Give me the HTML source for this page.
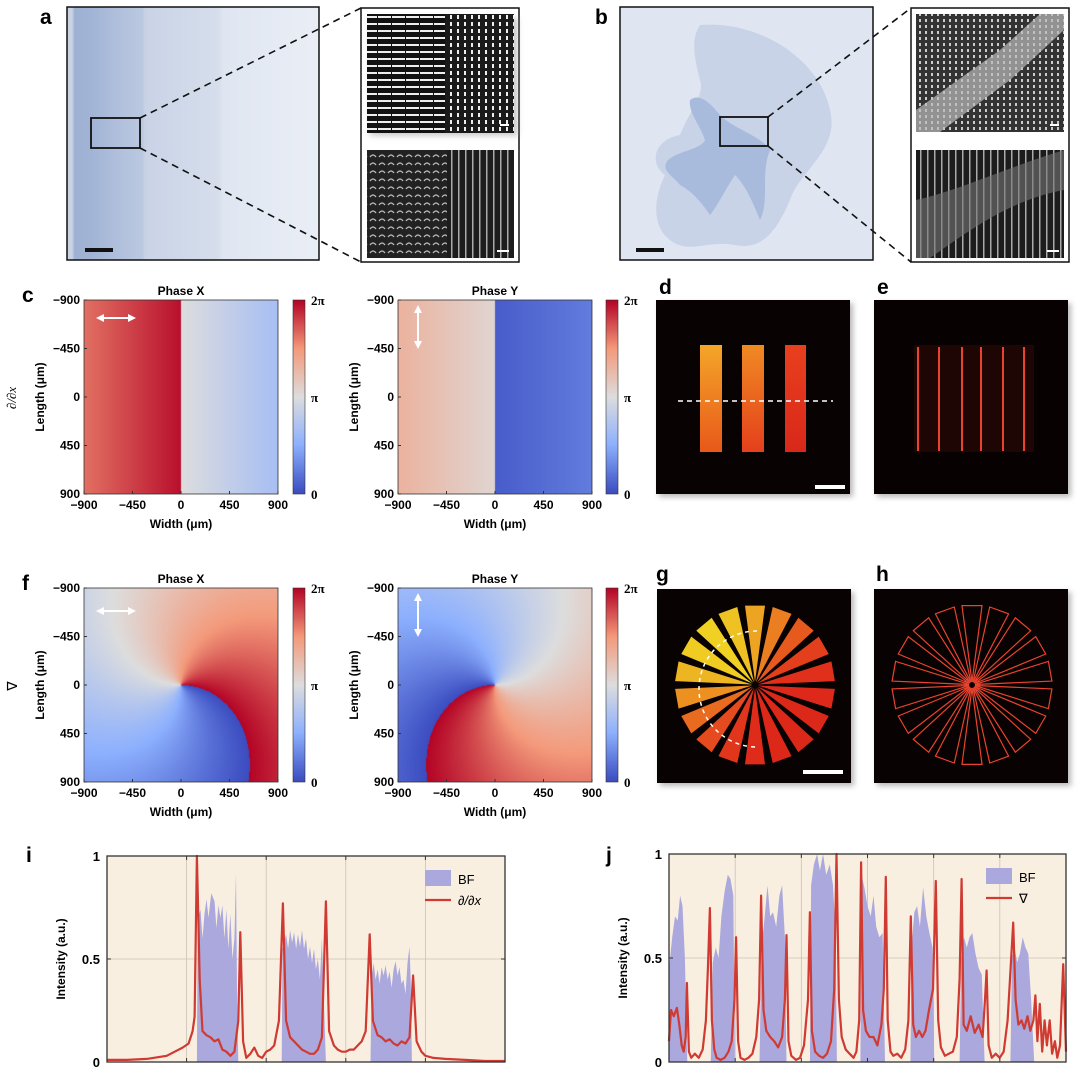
<!DOCTYPE html>
<html><head><meta charset="utf-8">
<style>
html,body{margin:0;padding:0;background:#fff;}
#wrap{position:relative;width:1080px;height:1068px;overflow:hidden;font-family:"Liberation Sans",sans-serif;}
canvas{position:absolute;}
svg{position:absolute;left:0;top:0;}
</style></head>
<body>
<div id="wrap">
<canvas id="hmC1" width="194" height="194" style="left:84px;top:300px;width:194px;height:194px"></canvas>
<canvas id="hmC2" width="194" height="194" style="left:398px;top:300px;width:194px;height:194px"></canvas>
<canvas id="hmF1" width="194" height="194" style="left:84px;top:588px;width:194px;height:194px"></canvas>
<canvas id="hmF2" width="194" height="194" style="left:398px;top:588px;width:194px;height:194px"></canvas>
<canvas id="cb1" width="12" height="194" style="left:293px;top:300px;width:12px;height:194px"></canvas>
<canvas id="cb2" width="12" height="194" style="left:606px;top:300px;width:12px;height:194px"></canvas>
<canvas id="cb3" width="12" height="194" style="left:293px;top:588px;width:12px;height:194px"></canvas>
<canvas id="cb4" width="12" height="194" style="left:606px;top:588px;width:12px;height:194px"></canvas>

<svg id="svg" width="1080" height="1068" viewBox="0 0 1080 1068" xmlns="http://www.w3.org/2000/svg">
<defs>
  <linearGradient id="gA" x1="0" x2="1" y1="0" y2="0">
    <stop offset="0" stop-color="#c9d3e4"/><stop offset="0.02" stop-color="#c9d3e4"/>
    <stop offset="0.03" stop-color="#9fb1d2"/><stop offset="0.1" stop-color="#a2b4d5"/>
    <stop offset="0.2" stop-color="#b0bfdc"/><stop offset="0.3" stop-color="#bac8e0"/>
    <stop offset="0.31" stop-color="#c9d3e6"/><stop offset="0.6" stop-color="#d6deec"/>
    <stop offset="0.62" stop-color="#e0e6f1"/><stop offset="1" stop-color="#e9eef6"/>
  </linearGradient>
  <pattern id="pTopL" width="14" height="7" patternUnits="userSpaceOnUse"><rect width="14" height="7" fill="#111"/><rect x="0" y="2" width="13" height="2" fill="#eee"/></pattern>
  <pattern id="pTopR" width="7" height="7" patternUnits="userSpaceOnUse"><rect width="7" height="7" fill="#1a1a1a"/><rect x="2" y="1" width="2" height="4" fill="#eee"/></pattern>
  <pattern id="pBotL" width="9" height="8" patternUnits="userSpaceOnUse"><rect width="9" height="8" fill="#222"/><path d="M1 5 Q4 1 7 5" stroke="#bbb" stroke-width="1.3" fill="none"/></pattern>
  <pattern id="pBotR" width="7" height="6" patternUnits="userSpaceOnUse"><rect width="7" height="6" fill="#1c1c1c"/><rect x="3" y="0" width="1.5" height="6" fill="#aaa"/></pattern>
  <pattern id="pGrey" width="6" height="6" patternUnits="userSpaceOnUse"><rect width="6" height="6" fill="#333"/><rect x="1" y="1" width="2" height="3" fill="#ccc"/></pattern>
  <linearGradient id="gBar1" x1="0" x2="0" y1="0" y2="1"><stop offset="0" stop-color="#f4a628"/><stop offset="1" stop-color="#e8581a"/></linearGradient>
  <linearGradient id="gBar2" x1="0" x2="0" y1="0" y2="1"><stop offset="0" stop-color="#f08a22"/><stop offset="1" stop-color="#e4401c"/></linearGradient>
  <linearGradient id="gBar3" x1="0" x2="0" y1="0" y2="1"><stop offset="0" stop-color="#e8401e"/><stop offset="1" stop-color="#d8281a"/></linearGradient>
  <filter id="sh" x="-10%" y="-10%" width="130%" height="130%"><feGaussianBlur stdDeviation="3"/></filter>
  <marker id="ah" viewBox="0 0 10 10" refX="5" refY="5" markerWidth="4" markerHeight="4" orient="auto-start-reverse"><path d="M0 0 L10 5 L0 10 z" fill="#fff"/></marker>
</defs>

<!-- Panel a -->
<text x="40" y="24" font-size="21" font-weight="bold">a</text>
<g>
  <rect x="67" y="7" width="252" height="253" fill="url(#gA)" stroke="#111" stroke-width="1.5"/>
  <rect x="91" y="118" width="49" height="30" fill="none" stroke="#111" stroke-width="1.8"/>
  <rect x="85" y="248" width="28" height="4" fill="#111"/>
</g>
<line x1="140" y1="118" x2="361" y2="8" stroke="#111" stroke-width="1.6" stroke-dasharray="7,5"/>
<line x1="140" y1="148" x2="361" y2="262" stroke="#111" stroke-width="1.6" stroke-dasharray="7,5"/>
<g>
  <rect x="361" y="8" width="158" height="254" fill="#fff" stroke="#111" stroke-width="1.5"/>
  <rect x="370" y="18" width="148" height="118" fill="#999" filter="url(#sh)" opacity="0.5"/>
  <rect x="367" y="14" width="78" height="119" fill="url(#pTopL)"/>
  <rect x="445" y="14" width="69" height="119" fill="url(#pTopR)"/>
  <rect x="367" y="150" width="80" height="108" fill="url(#pBotL)"/>
  <rect x="447" y="150" width="67" height="108" fill="url(#pBotR)"/>
  <rect x="500" y="124" width="9" height="2" fill="#fff"/><rect x="497" y="250" width="12" height="2" fill="#fff"/>
</g>

<!-- Panel b -->
<text x="595" y="24" font-size="21" font-weight="bold">b</text>
<g>
  <rect x="620" y="7" width="253" height="253" fill="#dfe6f1" stroke="#111" stroke-width="1.5"/>
  <path d="M700 25 C760 20 820 60 830 110 C840 150 800 170 790 200 C775 235 760 250 735 245 C705 240 690 255 670 240 C650 225 655 195 665 175 C650 165 652 140 680 135 C690 110 705 95 700 80 C695 60 690 40 700 25 Z" fill="#c8d3e8"/>
  <path d="M690 100 C700 92 712 105 720 115 C735 130 760 135 770 150 C760 175 770 200 760 220 C752 200 745 185 735 175 C725 190 718 205 710 215 C700 200 690 190 680 185 C672 175 660 170 668 160 C680 150 700 150 705 140 C700 125 688 112 690 100 Z" fill="#a9bbdc"/>
  <rect x="720" y="117" width="48" height="29" fill="none" stroke="#111" stroke-width="1.8"/>
  <rect x="636" y="248" width="28" height="4" fill="#111"/>
</g>
<line x1="768" y1="117" x2="911" y2="8" stroke="#111" stroke-width="1.6" stroke-dasharray="7,5"/>
<line x1="768" y1="146" x2="911" y2="262" stroke="#111" stroke-width="1.6" stroke-dasharray="7,5"/>
<g>
  <rect x="911" y="8" width="158" height="254" fill="#fff" stroke="#111" stroke-width="1.5"/>
  <rect x="916" y="14" width="148" height="118" fill="url(#pGrey)"/>
  <path d="M916 110 L1000 50 L1040 14 L1064 14 L1064 30 L1010 80 L940 132 L916 132 Z" fill="#bbb" opacity="0.7"/>
  <rect x="916" y="150" width="148" height="108" fill="url(#pBotR)"/>
  <path d="M916 200 C960 190 1000 170 1064 150 L1064 190 C1010 200 970 230 930 258 L916 258 Z" fill="#777" opacity="0.6"/>
  <rect x="1050" y="124" width="9" height="2" fill="#fff"/><rect x="1047" y="250" width="12" height="2" fill="#fff"/>
</g>

<!-- Row c labels -->
<text x="22" y="302" font-size="21" font-weight="bold">c</text>
<text x="22" y="590" font-size="21" font-weight="bold">f</text>
<text transform="translate(16,398) rotate(-90)" text-anchor="middle" font-size="13" font-style="italic" font-family="Liberation Serif,serif">∂/∂x</text>
<text transform="translate(17,686) rotate(-90)" text-anchor="middle" font-size="14">∇</text>

<g id="heatAxes"></g>

<!-- d -->
<text x="659" y="294" font-size="21" font-weight="bold">d</text>
<rect x="659" y="303" width="194" height="194" fill="#888" filter="url(#sh)" opacity="0.6"/>
<g>
  <rect x="656" y="300" width="194" height="194" fill="#080202"/>
  <rect x="700" y="345" width="22" height="107" fill="url(#gBar1)"/>
  <rect x="742" y="345" width="22" height="107" fill="url(#gBar2)"/>
  <rect x="785" y="345" width="21" height="107" fill="url(#gBar3)"/>
  <line x1="678" y1="401" x2="833" y2="401" stroke="#fff" stroke-width="1.5" stroke-dasharray="5,4"/>
  <rect x="815" y="485" width="30" height="4" fill="#fff"/>
</g>
<!-- e -->
<text x="877" y="294" font-size="21" font-weight="bold">e</text>
<rect x="877" y="303" width="194" height="194" fill="#888" filter="url(#sh)" opacity="0.6"/>
<g id="panelE">
  <rect x="874" y="300" width="194" height="194" fill="#070101"/>
  <rect x="914" y="345" width="120" height="107" fill="#1e0604"/>
</g>
<!-- g -->
<text x="656" y="581" font-size="21" font-weight="bold">g</text>
<rect x="660" y="592" width="194" height="194" fill="#888" filter="url(#sh)" opacity="0.6"/>
<g id="panelG">
  <rect x="657" y="589" width="194" height="194" fill="#080202"/>
</g>
<!-- h -->
<text x="876" y="581" font-size="21" font-weight="bold">h</text>
<rect x="877" y="592" width="194" height="194" fill="#888" filter="url(#sh)" opacity="0.6"/>
<g id="panelH">
  <rect x="874" y="589" width="194" height="194" fill="#080202"/>
</g>

<!-- i / j -->
<text x="26" y="862" font-size="21" font-weight="bold">i</text>
<text x="606" y="862" font-size="21" font-weight="bold">j</text>
<g id="chartI"></g>
<g id="chartJ"></g>
</svg>
</div>

<script>
// ---------- Chart data (panel i) ----------
const iRedX = [0,5,10,15,17,19,20.5,21.5,22,22.6,23.3,24,25,26,27,28,29,30,31,32,33,33.5,34.2,35,36,37,38,39,40,41,42,43.2,44.2,45,46,47,48,49,50,51,52,53,54,55,55.8,57,58,59,60,61,62,63,64,65,66,66.8,68,69,70,71,72,73,74,75,76,76.9,77.8,79,80,82,85,90,95,100];
const iRedY = [0.01,0.01,0.015,0.03,0.05,0.07,0.09,0.15,0.22,1.0,0.4,0.15,0.13,0.12,0.1,0.11,0.06,0.05,0.03,0.05,0.2,0.63,0.1,0.02,0.04,0.07,0.03,0.02,0.05,0.06,0.08,0.2,0.77,0.2,0.12,0.1,0.08,0.06,0.05,0.04,0.04,0.06,0.12,0.78,0.15,0.08,0.06,0.05,0.05,0.06,0.06,0.08,0.1,0.15,0.62,0.2,0.13,0.12,0.1,0.11,0.09,0.08,0.1,0.09,0.12,0.42,0.1,0.05,0.03,0.02,0.015,0.01,0.005,0.005];
const iBfX = [0,22.6,22.8,23.5,24,24.5,25,25.5,26.2,27,27.5,28,28.5,29,29.5,30,30.5,31,31.5,32,32.4,32.7,33,43.9,44.1,45,45.5,46,46.5,47,47.5,48,48.5,49,49.5,50,50.5,51,51.5,52,52.5,53,53.5,54,54.5,55,66.2,66.5,67,67.5,68,68.5,69,69.5,70,70.5,71,71.5,72,72.5,73,73.5,74,74.5,75,75.5,76,76.3,76.6,100];
const iBfY = [0,0,0.7,0.74,0.6,0.72,0.79,0.7,0.82,0.78,0.65,0.76,0.7,0.76,0.6,0.74,0.55,0.72,0.5,0.6,0.92,0.3,0,0,0.55,0.62,0.55,0.64,0.58,0.63,0.55,0.62,0.56,0.64,0.55,0.6,0.5,0.56,0.48,0.55,0.45,0.5,0.4,0.6,0.3,0,0,0.42,0.48,0.4,0.45,0.38,0.46,0.42,0.47,0.4,0.44,0.36,0.45,0.49,0.42,0.46,0.38,0.4,0.33,0.48,0.56,0.4,0,0];
// ---------- Chart data (panel j) ----------
const jRedX = [0,0.5,1.2,2,2.6,3.2,3.7,4.2,4.5,5,5.6,6.5,7.5,8.5,9.3,9.8,10.3,10.8,11.4,12,13,14,15,15.8,16.5,16.9,17.4,18,19,20,21,22,22.7,23.2,23.8,24.5,25.5,26.5,27.5,28.5,29.2,29.6,30.1,30.8,32,33,34,35,35.5,36,36.8,37.8,38.8,39.8,40.8,41.6,42.2,42.8,43.5,44.5,45.5,46.5,47.2,47.9,48.4,48.9,49.6,50.5,51.5,52.5,53.5,54.1,54.6,55.1,55.8,56.5,57.5,58.5,59.5,60.3,60.9,61.5,62.2,63,63.8,64.6,65.5,66.5,67.2,67.8,68.5,69.5,70.5,71.5,72.5,73.2,73.7,74.2,75,76,77,78,79,79.6,80,80.5,81.3,82.3,83.3,84.3,85.3,86.2,86.7,87.3,88,88.8,89.5,90.3,91,91.8,92.3,92.8,93.4,94,94.6,95.2,95.9,96.5,97.2,97.8,98.5,99.3,100];
const jRedY = [0.1,0.25,0.22,0.26,0.18,0.08,0.05,0.12,0.38,0.05,0.02,0.04,0.02,0.06,0.2,0.45,0.74,0.2,0.06,0.02,0.01,0.02,0.05,0.1,0.3,0.6,0.1,0.02,0.01,0.02,0.04,0.12,0.3,0.8,0.25,0.15,0.12,0.1,0.07,0.12,0.3,0.61,0.1,0.03,0.01,0.02,0.08,0.3,0.72,0.15,0.05,0.03,0.02,0.04,0.1,0.35,1.0,0.3,0.12,0.06,0.04,0.02,0.05,0.2,0.96,0.25,0.15,0.12,0.12,0.08,0.18,0.35,0.89,0.2,0.05,0.03,0.04,0.02,0.06,0.2,0.7,0.18,0.12,0.15,0.12,0.15,0.25,0.35,0.87,0.2,0.07,0.03,0.04,0.05,0.12,0.4,0.88,0.18,0.15,0.22,0.14,0.18,0.12,0.3,0.44,0.08,0.02,0.04,0.02,0.05,0.2,0.5,0.67,0.3,0.18,0.2,0.16,0.22,0.15,0.2,0.32,0.1,0.28,0.05,0.2,0.08,0.2,0.04,0.1,0.02,0.08,0.47,0.05];
const jBfX = [0,0.8,1.5,2.2,2.8,3.4,4,4.6,10.5,11,11.8,12.5,13.2,14,14.8,15.5,16.2,16.6,22.8,23.3,24,24.8,25.5,26.2,27,27.8,28.5,29.2,29.6,35.5,35.8,36.5,37.3,38,38.8,39.6,40.5,41.3,42,42.3,48.2,48.5,49.2,50,50.8,51.5,52.2,53,53.8,54.4,60.8,61.1,61.8,62.5,63.2,64,64.8,65.6,66.4,66.8,73.2,73.6,74.3,75,75.7,76.4,77.2,78,78.8,79.5,86,86.4,87,87.7,88.4,89.1,89.8,90.5,91.2,92,100];
const jBfY = [0.45,0.6,0.7,0.68,0.8,0.75,0.5,0,0,0.48,0.55,0.5,0.7,0.82,0.9,0.88,0.8,0,0,0.55,0.68,0.85,0.7,0.72,0.65,0.8,0.85,0.6,0,0,0.85,0.95,1.0,0.92,1.0,0.9,0.95,0.85,0.6,0,0,0.9,0.84,0.75,0.7,0.8,0.65,0.6,0.62,0,0,0.55,0.72,0.75,0.65,0.84,0.7,0.62,0.55,0,0,0.5,0.6,0.55,0.6,0.62,0.52,0.45,0.42,0,0,0.5,0.55,0.48,0.52,0.6,0.55,0.52,0.3,0,0];
const yTickVals = [0,0.5,1];
const yTickLabels = ["0","0.5","1"];
const heatTickVals = [-900,-450,0,450,900];
const heatTickLabels = ["\u2212900","\u2212450","0","450","900"];
const cbarLabels = ["2\u03c0","\u03c0","0"];

const NS = "http://www.w3.org/2000/svg";
function mk(tag, attrs, parent){ const e=document.createElementNS(NS,tag); for(const k in attrs) e.setAttribute(k,attrs[k]); parent.appendChild(e); return e; }

// ---------- colormap ----------
const stops=[[0,[59,76,192]],[0.25,[141,176,254]],[0.5,[221,221,221]],[0.75,[244,154,123]],[1,[180,4,38]]];
function cmap(t){ t=Math.max(0,Math.min(1,t)); for(let i=1;i<stops.length;i++){ if(t<=stops[i][0]){const a=stops[i-1],b=stops[i];const f=(t-a[0])/(b[0]-a[0]);return [0,1,2].map(k=>Math.round(a[1][k]+(b[1][k]-a[1][k])*f));}} return stops[4][1]; }
function paint(id, fn){ const c=document.getElementById(id), ctx=c.getContext('2d'); const w=c.width,h=c.height; const img=ctx.createImageData(w,h);
  for(let py=0;py<h;py++)for(let px=0;px<w;px++){ const x=-900+1800*(px+0.5)/w, y=-900+1800*(py+0.5)/h; const col=cmap(fn(x,y)); const o=(py*w+px)*4; img.data[o]=col[0];img.data[o+1]=col[1];img.data[o+2]=col[2];img.data[o+3]=255;} ctx.putImageData(img,0,0); }
const K=1.4e-4;
paint('hmC1',(x,y)=> x<0 ? 0.82+0.16*(x+900)/900 : 0.5-0.17*x/900);
paint('hmC2',(x,y)=> x<0 ? 0.66-0.13*(x+900)/900 : 0.04+0.08*x/900);
paint('hmF1',(x,y)=>{const r=Math.hypot(x,y),th=Math.atan2(y,x); let g=((th-2*Math.PI*K*r)/(2*Math.PI))%1; if(g<0)g+=1; return g;});
paint('hmF2',(x,y)=>{const r=Math.hypot(x,y),th=Math.atan2(y,x); let g=((th-Math.PI+2*Math.PI*K*r)/(2*Math.PI))%1; if(g<0)g+=1; return g;});
['cb1','cb2','cb3','cb4'].forEach(id=>{const c=document.getElementById(id),ctx=c.getContext('2d');for(let py=0;py<c.height;py++){const col=cmap(1-py/(c.height-1));ctx.fillStyle=`rgb(${col})`;ctx.fillRect(0,py,c.width,1);}});

// ---------- heatmap axes ----------
const HA=document.getElementById('heatAxes');
const heatPanels=[{x:84,y:300,title:"Phase X",cb:293,arrow:'h'},{x:398,y:300,title:"Phase Y",cb:606,arrow:'v'},{x:84,y:588,title:"Phase X",cb:293,arrow:'h'},{x:398,y:588,title:"Phase Y",cb:606,arrow:'v'}];
heatPanels.forEach((p,pi)=>{
  const S=194, sx=v=>p.x+(v+900)/1800*S, sy=v=>p.y+(v+900)/1800*S;
  const g=mk('g',{},HA);
  
  
  const fr=mk('rect',{x:p.x,y:p.y,width:S,height:S,fill:'none',stroke:'#333','stroke-width':0.8},g);
  
  
  const t=mk('text',{x:p.x+S/2,y:p.y-5,'text-anchor':'middle','font-size':12,'font-weight':'bold'},g); t.textContent=p.title;
  
  
  heatTickVals.forEach((v,i)=>{
    const xl=mk('text',{x:sx(v),y:p.y+S+15,'text-anchor':'middle','font-size':12,'font-weight':'bold'},g); xl.textContent=heatTickLabels[i];
    
    
    const yl=mk('text',{x:p.x-4,y:sy(v)+4,'text-anchor':'end','font-size':12,'font-weight':'bold'},g); yl.textContent=heatTickLabels[i];
    
    
    mk('line',{x1:sx(v),x2:sx(v),y1:p.y+S,y2:p.y+S-3,stroke:'#333'},g);
    mk('line',{x1:p.x,x2:p.x+3,y1:sy(v),y2:sy(v),stroke:'#333'},g);
  });
  const xt=mk('text',{x:p.x+S/2,y:p.y+S+34,'text-anchor':'middle','font-size':12,'font-weight':'bold'},g); xt.textContent='Width (\u03bcm)';
  
  
  const yt=mk('text',{transform:`translate(${p.x-40},${p.y+S/2}) rotate(-90)`,'text-anchor':'middle','font-size':12,'font-weight':'bold'},g); yt.textContent='Length (\u03bcm)';
  
  
  mk('rect',{x:p.cb,y:p.y,width:12,height:S,fill:'none',stroke:'#333','stroke-width':0.6},g);
  cbarLabels.forEach((lab,i)=>{ const c=mk('text',{x:p.cb+18,y:p.y+i*S/2+5,'font-size':13,'font-weight':'bold','font-family':'Liberation Serif,serif'},g); c.textContent=lab;
    
     });
  let a;
  if(p.arrow==='h') a=mk('line',{x1:p.x+16,y1:p.y+18+(pi>1?5:0),x2:p.x+48,y2:p.y+18+(pi>1?5:0),stroke:'#fff','stroke-width':2,'marker-start':'url(#ah)','marker-end':'url(#ah)'},g);
  else a=mk('line',{x1:p.x+20,y1:p.y+9,x2:p.x+20,y2:p.y+45,stroke:'#fff','stroke-width':2,'marker-start':'url(#ah)','marker-end':'url(#ah)'},g);
  
  
});

// ---------- panel e lines ----------
const eLineX=[918,939,962,981,1003,1024];
const PE=document.getElementById('panelE');
eLineX.forEach(x=>{ const l=mk('line',{x1:x,x2:x,y1:347,y2:451,stroke:'#ff4a30','stroke-width':1.8},PE);
  
   });

// ---------- stars g/h ----------
function star(parent,cx,cy,outline){
  const N=18, half=Math.PI/N*0.72;
  for(let i=0;i<N;i++){
    const a=-Math.PI/2+i*2*Math.PI/N;
    const R=80, r0=3;
    const p1=[cx+r0*Math.cos(a),cy+r0*Math.sin(a)];
    const p2=[cx+R*Math.cos(a-half),cy+R*Math.sin(a-half)];
    const p3=[cx+R*Math.cos(a+half),cy+R*Math.sin(a+half)];
    const d=Math.cos(a-(-3*Math.PI/4)); const t=(d+1)/2;
    const col=`rgb(${Math.round(220+20*t)},${Math.round(40+170*t*t)},${Math.round(25+10*t)})`;
    const w=mk('path',{d:`M${p1} L${p2} L${p3} Z`,fill:outline?'none':col,stroke:outline?'#e8442e':'none','stroke-width':outline?1.2:0},parent);
    
    
  }
}
const PG=document.getElementById('panelG'); star(PG,755,685,false);
const arc=mk('path',{d:'M757 631 A58 58 0 0 0 757 747',fill:'none',stroke:'#fff','stroke-width':1.5,'stroke-dasharray':'4,4'},PG);


mk('rect',{x:803,y:770,width:40,height:4,fill:'#fff'},PG);
star(document.getElementById('panelH'),972,685,true);

// ---------- line charts ----------
function lineChart(gid,L,T,R,B,redX,redY,bfX,bfY,grids,legendLabel,legendItalic){
  const G=document.getElementById(gid);
  const sx=u=>L+(R-L)*u/100, sy=v=>B-(B-T)*v;
  mk('rect',{x:L,y:T,width:R-L,height:B-T,fill:'#f9efe0'},G);
  grids.forEach(u=>mk('line',{x1:sx(u),x2:sx(u),y1:T,y2:B,stroke:'#c9c1b6','stroke-width':0.8},G));
  mk('line',{x1:L,x2:R,y1:sy(0.5),y2:sy(0.5),stroke:'#c9c1b6','stroke-width':0.8},G);
  let d=`M${sx(bfX[0])} ${sy(0)}`; bfX.forEach((x,i)=>d+=` L${sx(x).toFixed(1)} ${sy(bfY[i]).toFixed(1)}`); d+=` L${sx(bfX[bfX.length-1])} ${sy(0)} Z`;
  const area=mk('path',{d:d,fill:'#aba8dd'},G);
  
  
  let d2=''; redX.forEach((x,i)=>d2+=(i?' L':'M')+sx(x).toFixed(1)+' '+sy(redY[i]).toFixed(1));
  const ln=mk('path',{d:d2,fill:'none',stroke:'#cf3a32','stroke-width':2.2,'stroke-linejoin':'round'},G);
  
  
  mk('rect',{x:L,y:T,width:R-L,height:B-T,fill:'none',stroke:'#333','stroke-width':1.3},G);
  grids.forEach(u=>{mk('line',{x1:sx(u),x2:sx(u),y1:B,y2:B-4,stroke:'#333'},G);mk('line',{x1:sx(u),x2:sx(u),y1:T,y2:T+4,stroke:'#333'},G);});
  yTickVals.forEach((v,i)=>{
    mk('line',{x1:L,x2:L+4,y1:sy(v),y2:sy(v),stroke:'#333'},G); mk('line',{x1:R,x2:R-4,y1:sy(v),y2:sy(v),stroke:'#333'},G);
    const t=mk('text',{x:L-7,y:sy(v)+5,'text-anchor':'end','font-size':13,'font-weight':'bold'},G); t.textContent=yTickLabels[i];
    
    
  });
  const yt=mk('text',{transform:`translate(${L-42},${(T+B)/2}) rotate(-90)`,'text-anchor':'middle','font-size':12,'font-weight':'bold'},G); yt.textContent='Intensity (a.u.)';
  
  
  const lx=R-80;
  const lb=mk('rect',{x:lx,y:T+14,width:26,height:16,fill:'#aba8dd'},G);
  
  
  const t1=mk('text',{x:lx+33,y:T+28,'font-size':13},G); t1.textContent='BF';
  const ll=mk('line',{x1:lx,x2:lx+26,y1:T+44,y2:T+44,stroke:'#cf3a32','stroke-width':2.2},G);
  
  
  const t2=mk('text',{x:lx+33,y:T+49,'font-size':13,'font-style':legendItalic?'italic':'normal'},G); t2.textContent=legendLabel;
}
lineChart('chartI',107,856,505,1062,iRedX,iRedY,iBfX,iBfY,[20,40,60,80],'\u2202/\u2202x',true);
lineChart('chartJ',669,854,1066,1062,jRedX,jRedY,jBfX,jBfY,[16.67,33.33,50,66.67,83.33],'\u2207',false);
</script>
</body></html>
